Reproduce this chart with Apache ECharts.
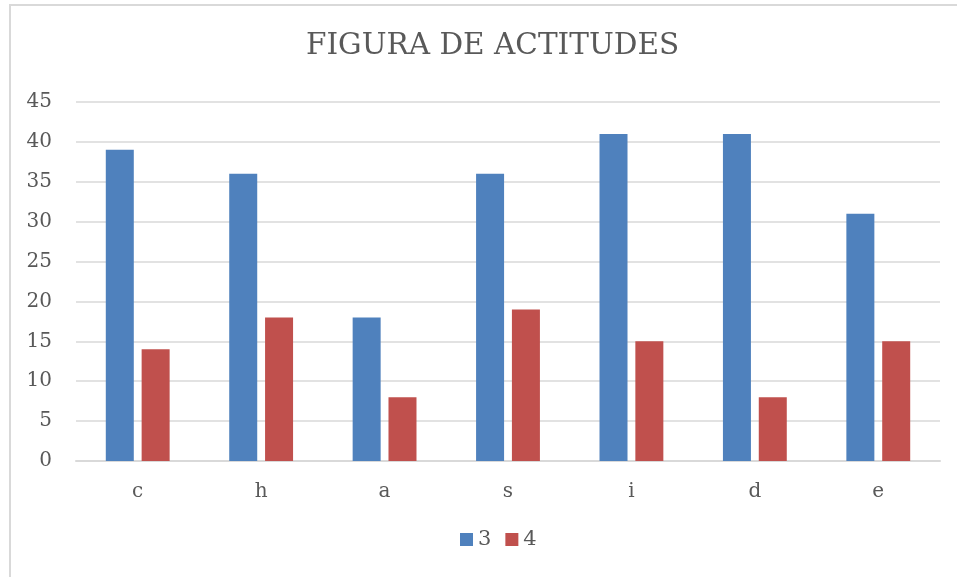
<!DOCTYPE html>
<html>
<head>
<meta charset="utf-8">
<script src="https://cdn.jsdelivr.net/npm/echarts@6/dist/echarts.min.js"></script>
<style>
  html, body { margin: 0; padding: 0; background: #fff; }
  #main { width: 957px; height: 577px; }
</style>
</head>
<body>
<div id="main"></div>
<script>
const categories = ['c', 'h', 'a', 's', 'i', 'd', 'e'];
const serie3 = [39, 36, 18, 36, 41, 41, 31];
const serie4 = [14, 18, 8, 19, 15, 8, 15];
const seriesNames = ['3', '4'];

const font = '"DejaVu Serif", "Liberation Serif", serif';
const chart = echarts.init(document.getElementById('main'));
chart.setOption({
  animation: false,
  color: ['#4f81bd', '#c0504d'],
  graphic: [{
    type: 'rect',
    shape: { x: 10, y: 5, width: 960, height: 590 },
    style: { fill: 'none', stroke: '#d9d9d9', lineWidth: 2 }
  }],
  title: {
    text: 'FIGURA DE ACTITUDES',
    left: 301,
    top: 26,
    textStyle: { fontFamily: font, fontSize: 29.5, fontWeight: 'normal', color: '#595959' }
  },
  legend: {
    bottom: 22,
    left: 455,
    itemWidth: 13,
    itemHeight: 13,
    itemGap: 14,
    icon: 'rect',
    textStyle: { fontFamily: font, fontSize: 21, color: '#595959' },
    data: seriesNames
  },
  grid: { left: 76, right: 17, top: 102, bottom: 116 },
  xAxis: {
    type: 'category',
    data: categories,
    axisLine: { show: true, lineStyle: { color: '#d9d9d9', width: 2 } },
    axisTick: { show: false },
    axisLabel: { fontFamily: font, fontSize: 20, color: '#595959', margin: 21 }
  },
  yAxis: {
    type: 'value',
    min: 0,
    max: 45,
    interval: 5,
    axisLine: { show: false },
    axisTick: { show: false },
    splitLine: { lineStyle: { color: '#d9d9d9', width: 1.5 } },
    axisLabel: { fontFamily: font, fontSize: 20, color: '#595959', margin: 24 }
  },
  series: [
    { name: seriesNames[0], type: 'bar', data: serie3, barWidth: 28, barGap: '28%' },
    { name: seriesNames[1], type: 'bar', data: serie4, barWidth: 28, barGap: '28%' }
  ]
});
</script>
</body>
</html>
